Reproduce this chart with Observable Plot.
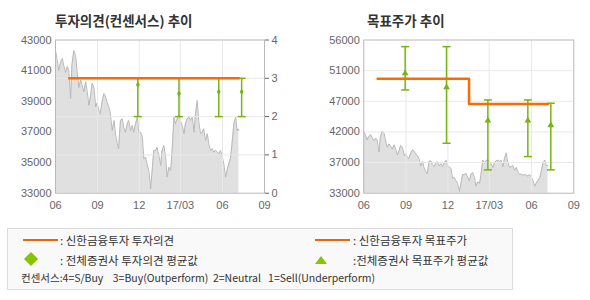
<!DOCTYPE html>
<html><head><meta charset="utf-8">
<script src="https://cdn.jsdelivr.net/npm/d3@7"></script>
<script src="https://cdn.jsdelivr.net/npm/@observablehq/plot@0.6"></script>
<style>
body{margin:0;background:#fff;}
#wrap{position:relative;width:590px;height:300px;overflow:hidden;font-family:"Noto Sans CJK KR",sans-serif;}
.layer{position:absolute;top:0;}
.title{position:absolute;top:10px;font-size:13.5px;font-weight:700;color:#333;line-height:20px;}
#legend{position:absolute;left:7px;top:228px;width:506px;height:62px;border:1px solid #dcdcdc;background:#f9f9f9;box-sizing:border-box;}
.lt{position:absolute;font-size:11.5px;color:#333;white-space:pre;line-height:14px;}
.ll{position:absolute;height:2px;width:35px;background:#e8650a;}
.dia{position:absolute;width:10px;height:10px;background:#88c400;transform:rotate(45deg);}
.tri{position:absolute;width:0;height:0;border-left:6.5px solid transparent;border-right:6.5px solid transparent;border-bottom:8px solid #88c400;}
</style></head><body>
<div id="wrap">
  <div class="title" style="left:55px">투자의견(컨센서스) 추이</div>
  <div class="title" style="left:367px">목표주가 추이</div>
  <div id="L1" class="layer" style="left:0"></div>
  <div id="L2" class="layer" style="left:0"></div>
  <div id="R1" class="layer" style="left:295px"></div>
  <div id="R2" class="layer" style="left:295px"></div>
  <div id="legend">
    <div class="ll" style="left:15px;top:10px"></div>
    <div class="lt" style="left:52px;top:4px">: 신한금융투자 투자의견</div>
    <div class="ll" style="left:307px;top:10px"></div>
    <div class="lt" style="left:345px;top:4px">: 신한금융투자 목표주가</div>
    <div class="dia" style="left:18px;top:25px"></div>
    <div class="lt" style="left:52px;top:24px">: 전체증권사 투자의견 평균값</div>
    <div class="tri" style="left:307px;top:27px"></div>
    <div class="lt" style="left:345px;top:24px">:전체증권사 목표주가 평균값</div>
    <div class="lt" style="left:13px;top:42px;font-size:10.5px">컨센서스:4=S/Buy    3=Buy(Outperform)  2=Neutral   1=Sell(Underperform)</div>
  </div>
</div>
<script>
// ---- data ----
const priceDates = ["2016-06-01","2016-06-05","2016-06-08","2016-06-12","2016-06-16","2016-06-19","2016-06-23","2016-06-27","2016-06-30","2016-07-04","2016-07-07","2016-07-11","2016-07-15","2016-07-18","2016-07-22","2016-07-26","2016-07-29","2016-08-02","2016-08-06","2016-08-09","2016-08-13","2016-08-17","2016-08-20","2016-08-24","2016-08-28","2016-08-31","2016-09-04","2016-09-07","2016-09-11","2016-09-15","2016-09-18","2016-09-22","2016-09-26","2016-09-29","2016-10-03","2016-10-07","2016-10-10","2016-10-14","2016-10-17","2016-10-21","2016-10-25","2016-10-28","2016-11-01","2016-11-05","2016-11-08","2016-11-12","2016-11-16","2016-11-19","2016-11-23","2016-11-27","2016-11-30","2016-12-04","2016-12-08","2016-12-11","2016-12-15","2016-12-18","2016-12-22","2016-12-26","2016-12-29","2017-01-02","2017-01-06","2017-01-09","2017-01-13","2017-01-17","2017-01-20","2017-01-24","2017-01-28","2017-01-31","2017-02-04","2017-02-08","2017-02-11","2017-02-15","2017-02-18","2017-02-22","2017-02-26","2017-03-01","2017-03-05","2017-03-09","2017-03-12","2017-03-16","2017-03-20","2017-03-23","2017-03-27","2017-03-31","2017-04-03","2017-04-07","2017-04-10","2017-04-14","2017-04-18","2017-04-21","2017-04-25","2017-04-29","2017-05-02","2017-05-06","2017-05-10","2017-05-13","2017-05-17","2017-05-21","2017-05-24","2017-05-28","2017-05-31","2017-06-04","2017-06-08","2017-06-11","2017-06-15","2017-06-19","2017-06-22","2017-06-26","2017-06-30","2017-07-03","2017-07-05","2017-07-07"];
const priceValues = [42310,41660,41010,41530,41790,41340,40880,41270,41010,39180,41400,42310,41990,41010,39900,40380,40100,39620,40270,39700,38740,39400,40160,39900,38640,38900,38400,38200,39000,39500,39350,38900,38600,38180,37090,37750,36880,36230,35900,37750,37860,37310,36980,37530,37750,37090,37420,36980,37530,37960,36980,36980,36660,35250,35350,34920,34480,33290,34370,35790,35790,36000,35460,34810,35790,36110,35350,34050,34700,34480,35790,37960,37530,37860,38070,37750,37420,36880,37530,37860,37960,37750,37960,36980,38180,39050,37750,36880,36980,37200,36440,36880,36230,35790,35900,35680,35790,35680,35570,35790,35460,34920,34050,34480,34920,35350,36230,37530,37960,37090,37200,37090];

const opinionDates = ["2016-07-01","2017-07-07"];
const opinionValues = [3,3];

const consDates = ["2016-11-28","2017-02-26","2017-05-24","2017-07-13"];
const consMax = [3,3,3,3];
const consMin = [2,2,2,2];
const consMean = [2.83,2.6,2.65,2.65];

const targetDates = ["2016-07-01","2017-01-16","2017-07-07"];
const targetValues = [50200,46400,46400];

const tpDates = ["2016-08-30","2016-11-28","2017-02-26","2017-05-24","2017-07-13"];
const tpMax = [55000,55000,47000,47000,46500];
const tpMin = [48500,40500,36500,38500,36500];
const tpMean = [51000,48900,43900,43900,43200];

const xTickDates = ["2016-06-01","2016-09-01","2016-12-01","2017-03-01","2017-06-01","2017-09-01"];
const xTickLabels = ["06","09","12","17/03","06","09"];
const leftPriceTicks = [33000,35000,37000,39000,41000,43000];
const opinionTicks = [0,1,2,3,4];
const rightPriceTicks = [33000,37600,42200,46800,51400,56000];
const rightPriceLabels = ["33000","37000","42000","47000","51000","56000"];

// ---- build ----
const parse = d3.utcParse("%Y-%m-%d");
const price = priceDates.map((d,i)=>({date:parse(d), value:priceValues[i]}));
const opinion = opinionDates.map((d,i)=>({date:parse(d), value:opinionValues[i]}));
const cons = consDates.map((d,i)=>({date:parse(d), max:consMax[i], min:consMin[i], mean:consMean[i]}));
const target = targetDates.map((d,i)=>({date:parse(d), value:targetValues[i]}));
const tp = tpDates.map((d,i)=>({date:parse(d), max:tpMax[i], min:tpMin[i], mean:tpMean[i]}));
const xTicks = xTickDates.map(parse);
const innerX = xTicks.slice(1, -1);
const xDomain = [xTicks[0], xTicks[xTicks.length-1]];
const xFmt = d => { const i = xTicks.findIndex(t => +t === +d); return i >= 0 ? xTickLabels[i] : ""; };

const GREEN = "#78b414", ORANGE = "#ff6a00", GRID = "#e9e9e9", FRAME = "#b8b8b8";
const hline = {draw(ctx, size){ const r = Math.sqrt(size/Math.PI); ctx.moveTo(-r,0); ctx.lineTo(r,0); }};

const W = 295, H = 215, MT = 39.5, MB = 22.3;
const axisStyle = {fontSize:"11px", fontFamily:"'Liberation Sans', Arial, sans-serif", color:"#666", background:"transparent", overflow:"visible"};

function xScale(showAxis){
  return showAxis
    ? {type:"utc", domain:xDomain, ticks:xTicks, tickFormat:xFmt, tickSize:0, tickPadding:8, label:null}
    : {type:"utc", domain:xDomain, axis:null};
}

// Left: price layer
document.getElementById("L1").append(Plot.plot({
  width:W, height:H, marginLeft:55, marginRight:31, marginTop:MT, marginBottom:MB,
  style:axisStyle,
  x:xScale(true),
  y:{domain:[33000,43000], ticks:leftPriceTicks, tickFormat:d=>String(d), tickSize:0, tickPadding:4, label:null},
  marks:[
    Plot.areaY(price,{x:"date", y1:33000, y2:"value", fill:"#e0e0e0"}),
    Plot.lineY(price,{x:"date", y:"value", stroke:"#b9b9b9", strokeWidth:1})
  ]
}));

// Left: opinion layer
document.getElementById("L2").append(Plot.plot({
  width:W, height:H, marginLeft:55, marginRight:31, marginTop:MT, marginBottom:MB,
  style:axisStyle,
  x:xScale(false),
  y:{domain:[0,4], axis:"right", ticks:opinionTicks, tickFormat:d=>String(d), tickSize:4, tickPadding:3, label:null},
  marks:[
    Plot.ruleY(opinionTicks.slice(1,-1),{stroke:GRID}),
    Plot.ruleX(innerX,{stroke:GRID}),
    Plot.frame({stroke:FRAME}),
    Plot.ruleX(cons,{x:"date", y1:"min", y2:"max", stroke:GREEN, strokeWidth:1.5}),
    Plot.dot(cons,{x:"date", y:"max", symbol:hline, r:4, stroke:GREEN, strokeWidth:1.5}),
    Plot.dot(cons,{x:"date", y:"min", symbol:hline, r:4, stroke:GREEN, strokeWidth:1.5}),
    Plot.dot(cons,{x:"date", y:"mean", symbol:"diamond", r:2, fill:GREEN, stroke:null}),
    Plot.lineY(opinion,{x:"date", y:"value", stroke:ORANGE, strokeWidth:2.5})
  ]
}));

// Right: price layer
const rFmt = d => { const i = rightPriceTicks.indexOf(d); return i >= 0 ? rightPriceLabels[i] : ""; };
document.getElementById("R1").append(Plot.plot({
  width:W, height:H, marginLeft:68.3, marginRight:16.7, marginTop:MT, marginBottom:MB,
  style:axisStyle,
  x:xScale(true),
  y:{domain:[33000,56000], ticks:rightPriceTicks, tickFormat:rFmt, tickSize:0, tickPadding:4, label:null},
  marks:[
    Plot.areaY(price,{x:"date", y1:33000, y2:"value", fill:"#e0e0e0"}),
    Plot.lineY(price,{x:"date", y:"value", stroke:"#b9b9b9", strokeWidth:1})
  ]
}));

// Right: target layer
document.getElementById("R2").append(Plot.plot({
  width:W, height:H, marginLeft:68.3, marginRight:16.7, marginTop:MT, marginBottom:MB,
  style:axisStyle,
  x:xScale(false),
  y:{domain:[33000,56000], axis:null},
  marks:[
    Plot.ruleY(rightPriceTicks.slice(1,-1),{stroke:GRID}),
    Plot.ruleX(innerX,{stroke:GRID}),
    Plot.frame({stroke:FRAME}),
    Plot.ruleX(tp,{x:"date", y1:"min", y2:"max", stroke:GREEN, strokeWidth:1.5}),
    Plot.dot(tp,{x:"date", y:"max", symbol:hline, r:4, stroke:GREEN, strokeWidth:1.5}),
    Plot.dot(tp,{x:"date", y:"min", symbol:hline, r:4, stroke:GREEN, strokeWidth:1.5}),
    Plot.dot(tp,{x:"date", y:"mean", symbol:"triangle", r:2.5, fill:GREEN, stroke:null}),
    Plot.line(target,{x:"date", y:"value", curve:"step-after", stroke:ORANGE, strokeWidth:2.5})
  ]
}));
</script>
</body></html>
